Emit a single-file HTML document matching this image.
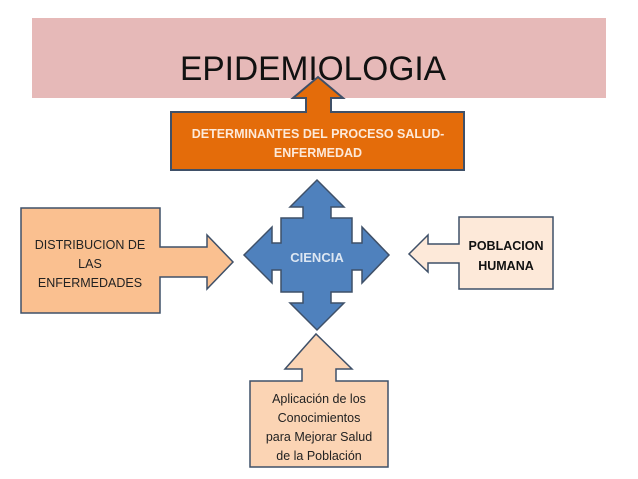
<!DOCTYPE html>
<html><head><meta charset="utf-8"><style>
html,body{margin:0;padding:0;background:#fff;}
svg{display:block;font-family:"Liberation Sans",sans-serif;}
</style></head><body>
<svg width="638" height="479" viewBox="0 0 638 479" xmlns="http://www.w3.org/2000/svg">
<rect x="0" y="0" width="638" height="479" fill="#fff"/>
<rect x="32" y="18" width="574" height="80" fill="#e6b9b8"/>
<text x="313" y="80" font-size="34" text-anchor="middle" textLength="266" lengthAdjust="spacingAndGlyphs" fill="#111">EPIDEMIOLOGIA</text>
<!-- orange box with up arrow -->
<path d="M171,112 H306 V98 H293 L318,77 L343,98 H331 V112 H464 V170 H171 Z" fill="#e46c0a" stroke="#3f5068" stroke-width="2"/>
<text font-size="12.5" font-weight="bold" fill="#fde9d9" text-anchor="middle"><tspan x="318" y="138">DETERMINANTES DEL PROCESO SALUD-</tspan><tspan x="318" y="157">ENFERMEDAD</tspan></text>
<!-- blue cross -->
<path d="M317,180 L344,207 H331 V218 H352 V243 H362 V227 L389,255 L362,283 V270 H352 V292 H331 V303 H344 L317,330 L290,303 H303 V292 H281 V270 H272 V283 L244,255 L272,227 V243 H281 V218 H303 V207 H290 Z" fill="#4f81bd" stroke="#3f5068" stroke-width="1.5"/>
<text x="317" y="262" font-size="13" font-weight="bold" fill="#dce6f2" text-anchor="middle">CIENCIA</text>
<!-- left -->
<path d="M21,208 H160 V247 H207 V235 L233,262 L207,289 V277 H160 V313 H21 Z" fill="#fac090" stroke="#3f5068" stroke-width="1.5"/>
<text font-size="12.5" fill="#222" text-anchor="middle"><tspan x="90" y="249">DISTRIBUCION DE</tspan><tspan x="90" y="268">LAS</tspan><tspan x="90" y="287">ENFERMEDADES</tspan></text>
<!-- right -->
<path d="M459,217 H553 V289 H459 V263 H428 V272 L409,254 L428,235 V244 H459 Z" fill="#fde9d9" stroke="#3f5068" stroke-width="1.5"/>
<text font-size="12.5" font-weight="bold" fill="#111" text-anchor="middle"><tspan x="506" y="250">POBLACION</tspan><tspan x="506" y="270">HUMANA</tspan></text>
<!-- bottom -->
<path d="M250,381 H302 V369 H285 L316,334 L352,369 H336 V381 H388 V467 H250 Z" fill="#fbd4b4" stroke="#3f5068" stroke-width="1.5"/>
<text font-size="12.5" fill="#222" text-anchor="middle"><tspan x="319" y="403">Aplicación de los</tspan><tspan x="319" y="422">Conocimientos</tspan><tspan x="319" y="441">para Mejorar Salud</tspan><tspan x="319" y="460">de la Población</tspan></text>
</svg>
</body></html>
